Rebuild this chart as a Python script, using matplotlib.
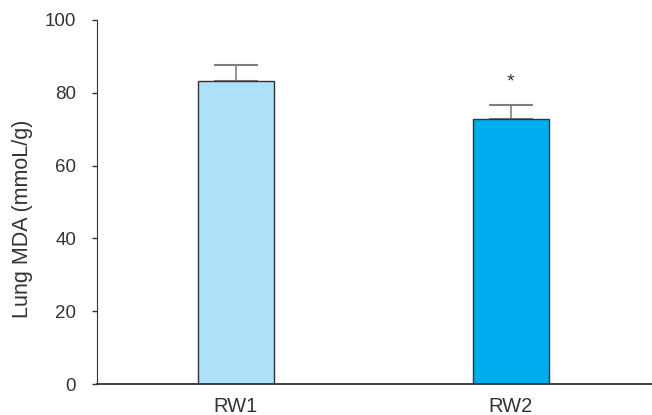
import matplotlib
matplotlib.use('Agg')
import matplotlib.pyplot as plt

plt.rcParams['font.family'] = ['Liberation Sans', 'DejaVu Sans']

# Lung MDA by group
groups = ['RW1', 'RW2']
means = [83.2, 72.9]
errors = [4.4, 3.7]
colors = ['#ade1fa', '#00aeef']
marks = ['', '*']

fig = plt.figure(figsize=(6.52, 4.15), dpi=100)
ax = fig.add_axes([97 / 652, 1 - 384 / 415, 1 - 97 / 652, (384 - 20) / 415])

x = range(len(groups))
ax.bar(x, means, width=0.276, color=colors, edgecolor='#333333', linewidth=1.0, zorder=2)
ax.errorbar(x, means, yerr=[[0] * len(errors), errors], fmt='none',
            ecolor='#808080', elinewidth=1.2, capsize=15.5, capthick=1.5, zorder=1)

# significance mark above the error bar
for xi, m, e, s in zip(x, means, errors, marks):
    if s:
        ax.text(xi, m + e + 6.5, s, ha='center', va='center', fontsize=14, color='#333333')

ax.set_xlim(-0.505, 1.513)
ax.set_ylim(0, 100)
ax.set_yticks([0, 20, 40, 60, 80, 100])
ax.set_xticks(list(x))
ax.set_xticklabels(groups)
ax.tick_params(axis='x', length=0, pad=9, labelsize=14.5, labelcolor='#333333')
ax.tick_params(axis='y', length=3.6, width=1, color='#333333', pad=11.5, labelsize=13.5, labelcolor='#333333')

ax.set_ylabel('Lung MDA (mmoL/g)', fontsize=15.5, color='#333333')
ax.yaxis.set_label_coords(-0.1153, 0.453)
ax.spines['top'].set_visible(False)
ax.spines['right'].set_visible(False)
ax.spines['left'].set_color('#333333')
ax.spines['bottom'].set_color('#333333')
ax.spines['bottom'].set_linewidth(1.3)

fig.savefig('out.png', dpi=100)
